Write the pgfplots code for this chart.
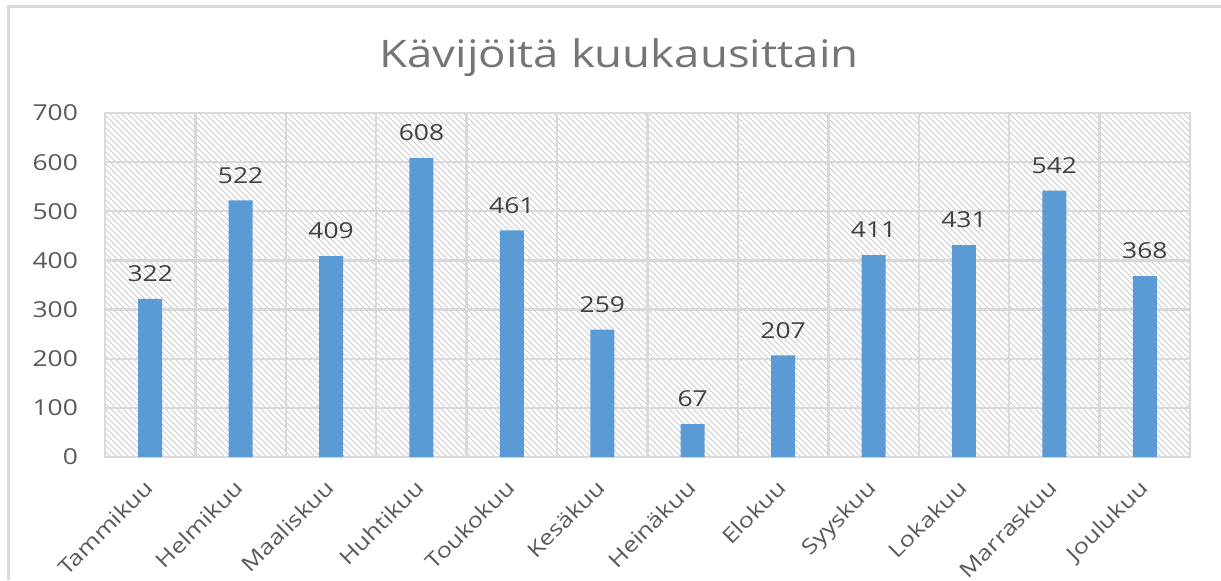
\documentclass[border=0pt]{standalone}
\usepackage{pgfplots}
\pgfplotsset{compat=1.18}
\usepackage{fontspec}
\setmainfont[FakeStretch=1.2]{Open Sans}
\usetikzlibrary{patterns}

\definecolor{barblue}{HTML}{5B9BD5}
\definecolor{gridgray}{HTML}{D9D9D9}
\definecolor{hatchgray}{HTML}{CCCCCC}
\definecolor{tickgray}{HTML}{595959}
\definecolor{lblgray}{HTML}{404040}
\definecolor{titlegray}{HTML}{757575}

\begin{document}
\begin{tikzpicture}
% outer chart frame (only left and top edges show in the reference)
\draw[gridgray, line width=1.5pt] (4pt,-290pt) -- (4pt,-3pt) -- (610.5pt,-3pt);
\node[text=titlegray, font=\fontsize{19}{23}\selectfont] at (309.5pt,-29pt) {Kävijöitä kuukausittain};
\begin{axis}[
    at={(52.5pt,-228.5pt)}, anchor=south west,
    scale only axis, width=542.5pt, height=172pt,
    xmin=-0.5, xmax=11.5, ymin=0, ymax=700,
    xtick={0,...,11},
    xticklabels={Tammikuu,Helmikuu,Maaliskuu,Huhtikuu,Toukokuu,Kesäkuu,Heinäkuu,Elokuu,Syyskuu,Lokakuu,Marraskuu,Joulukuu},
    minor xtick={-0.5,0.5,...,11.5},
    ytick={0,100,...,700},
    xmajorgrids=false, xminorgrids=true, ymajorgrids=true,
    grid style={gridgray, line width=1.2pt},
    minor grid style={gridgray, line width=1.2pt},
    axis line style={gridgray, line width=1.2pt},
    major tick length=0pt, minor tick length=0pt,
    tick style={draw=none},
    /pgf/number format/assume math mode=true,
    ticklabel style={font=\fontsize{11}{13}\selectfont, text=tickgray},
    yticklabel style={xshift=-10pt},
    xticklabel style={xshift=-3.5pt, yshift=-5.5pt, rotate=45, anchor=north east, font=\fontsize{10.5}{13}\selectfont},
    axis background/.style={pattern=north west lines, pattern color=hatchgray},
    ybar, bar width=12pt,
    nodes near coords,
    nodes near coords style={font=\fontsize{11}{13}\selectfont, text=lblgray, yshift=5pt},
]
\addplot[fill=barblue, draw=none] coordinates {
    (0,322) (1,522) (2,409) (3,608) (4,461) (5,259)
    (6,67) (7,207) (8,411) (9,431) (10,542) (11,368)
};
\end{axis}
\pgfresetboundingbox
\path (0pt,0pt) rectangle (610.5pt,-290pt);
\end{tikzpicture}
\end{document}
